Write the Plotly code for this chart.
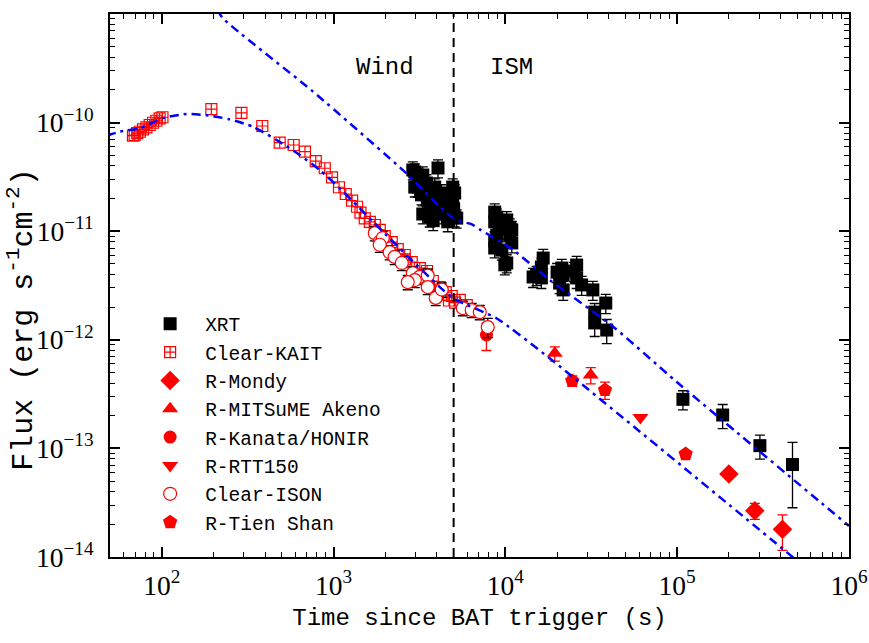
import plotly.graph_objects as go

# ---------------- data ----------------
XRT_T = [2893, 2970, 3306, 4055, 3094, 3473, 2970, 3250, 3880, 3990, 3630, 3306, 3630, 4439,
         5070, 4940, 5070, 4620, 3535, 4247, 4747, 3730, 4247, 4940, 5210, 3100, 3400, 4100,
         4600, 3800, 5000,
         8670, 8910, 8670, 10190, 10610, 10900, 8910, 8670, 10610, 10900, 9530, 8670, 10190,
         9930, 10000, 9200,
         16600, 16200, 14500, 16200, 15200, 21300, 21700, 20700, 21700, 20000, 26000, 26000,
         27800, 25000, 32300, 33100, 38400, 33100, 38900,
         108000, 184000, 303000, 469000]
XRT_F = [3.66e-11, 3.51e-11, 3.29e-11, 3.82e-11, 2.55e-11, 2.78e-11, 2.55e-11, 2.16e-11,
         2.55e-11, 2.07e-11, 1.82e-11, 1.44e-11, 1.35e-11, 1.57e-11, 2.25e-11, 1.82e-11,
         1.35e-11, 1.22e-11, 1.94e-11, 2.25e-11, 2.07e-11, 1.5e-11, 1.44e-11, 2.55e-11,
         1.32e-11, 3.2e-11, 2.4e-11, 1.7e-11, 1.6e-11, 1.25e-11, 1.6e-11,
         1.5e-11, 1.35e-11, 1.22e-11, 1.27e-11, 1.09e-11, 1.03e-11, 9.2e-12, 8.1e-12, 9.2e-12,
         7.8e-12, 6.7e-12, 7.0e-12, 5.1e-12, 4.9e-12, 1.15e-11, 1.05e-11,
         5.66e-12, 4.68e-12, 3.79e-12, 3.71e-12, 3.95e-12, 4.58e-12, 3.95e-12, 3.33e-12,
         2.88e-12, 4.2e-12, 4.88e-12, 3.71e-12, 3.2e-12, 4.3e-12, 2.88e-12, 1.8e-12, 2.18e-12,
         1.43e-12, 1.23e-12,
         2.83e-13, 2.03e-13, 1.06e-13, 7.1e-14]
XRT_REL = [0.19] * 31 + [0.19] * 16 + [0.2] * 17 + [0.25, 0.25] + [0.2, 0.25, 0.25, 0.6]

KAIT_T = [68, 69.6, 72, 74.5, 77.8, 81.5, 85.1, 89, 93.1, 97.3, 101, 194.5, 291, 385, 486, 586,
          682, 788, 889, 980, 1076, 1178, 1282, 1371, 1435, 1520, 1626, 1738, 1858, 1986, 2182,
          2365, 2596, 2851, 3177, 3490, 3780, 4150, 4500, 4875, 5430, 5960, 2600, 3500, 4300,
          3900, 4700, 5100]
KAIT_F = [7.6e-11, 7.69e-11, 8.0e-11, 8.24e-11, 8.67e-11, 9.05e-11, 9.5e-11, 9.97e-11, 1.04e-10,
          1.096e-10, 1.12e-10, 1.33e-10, 1.23e-10, 9.3e-11, 6.53e-11, 6.22e-11, 5.4e-11,
          4.42e-11, 3.8e-11, 3.13e-11, 2.54e-11, 2.2e-11, 1.91e-11, 1.68e-11, 1.48e-11,
          1.31e-11, 1.22e-11, 1.14e-11, 1.03e-11, 9.0e-12, 7.94e-12, 6.85e-12, 6.04e-12,
          5.2e-12, 4.58e-12, 3.95e-12, 3.48e-12, 3.06e-12, 2.75e-12, 2.53e-12, 2.33e-12,
          2.09e-12, 5.5e-12, 4.3e-12, 2.6e-12, 2.9e-12, 2.3e-12, 2.2e-12]

MONDY_T = [200000, 283000, 410000]
MONDY_F = [5.8e-14, 2.67e-14, 1.8e-14]
MONDY_REL = [0.06, 0.17, 0.36]

MITSUME_T = [19400, 31400]
MITSUME_F = [7.5e-13, 4.74e-13]
MITSUME_REL = [0.15, 0.17]

KANATA_T = [7762]
KANATA_F = [1.107e-12]
KANATA_REL = [0.28]

RTT_T = [61100]
RTT_F = [1.93e-13]

ISON_T = [1738, 1858, 1934, 1858, 2122, 2270, 2496, 2893, 3177, 2972, 3535, 2704, 3535, 3934,
          4262, 5652, 6371, 7096, 7898]
ISON_F = [9.6e-12, 8.0e-12, 8.65e-12, 7.5e-12, 6.4e-12, 5.8e-12, 5.1e-12, 4.1e-12, 3.8e-12,
          3.55e-12, 3.9e-12, 3.4e-12, 3.06e-12, 2.43e-12, 2.9e-12, 1.96e-12, 1.88e-12, 1.8e-12,
          1.31e-12]
ISON_REL = [0.15] * 18 + [0.2]

TIEN_T = [24500, 38000, 112000]
TIEN_F = [4.18e-13, 3.45e-13, 8.87e-14]
TIEN_REL = [0.11, 0.18, 0.05]

# model curves
XMODEL_T = [210, 227, 760, 2655, 3319, 4055, 5128, 6353, 7096, 11100, 18100, 42400, 99100, 1.0e6]
XMODEL_F = [1.1e-9, 9.13e-10, 1.93e-10, 3.41e-11, 2.39e-11, 1.74e-11, 1.27e-11, 1.16e-11,
            1.04e-11, 6.71e-12, 3.56e-12, 1.32e-12, 4.11e-13, 1.93e-14]
OMODEL_T = [48, 57, 74.5, 101.8, 139, 182, 249, 340, 466, 635, 831, 1087, 1419, 1738, 1941,
            2780, 4335, 5190, 8870, 18100, 443000, 518000]
OMODEL_F = [7.6e-11, 8.24e-11, 8.87e-11, 1.1e-10, 1.2e-10, 1.17e-10, 1.07e-10, 9.16e-11,
            6.92e-11, 5.04e-11, 3.66e-11, 2.48e-11, 1.63e-11, 1.18e-11, 9.9e-12, 5.62e-12,
            2.88e-12, 2.32e-12, 1.58e-12, 6.76e-13, 1.08e-14, 8.8e-15]

BREAK_T = 5000
Y_SPAN = [1e-14, 1e-9]

RED = "#ff0000"
BLUE = "#0000ff"
MONO = "Liberation Mono"
SERIF = "Liberation Serif"


def err(vals, rel, color):
    e = [v * r for v, r in zip(vals, rel)]
    return dict(type="data", array=e, arrayminus=e, color=color, thickness=1.3, width=5,
                visible=True)


fig = go.Figure()

fig.add_trace(go.Scatter(x=XRT_T, y=XRT_F, mode="markers", name="XRT",
                         marker=dict(symbol="square", size=13, color="black"),
                         error_y=err(XRT_F, XRT_REL, "black")))
fig.add_trace(go.Scatter(x=KAIT_T, y=KAIT_F, mode="markers", name="Clear-KAIT",
                         marker=dict(symbol="square-cross-open", size=11, color=RED,
                                     line=dict(width=1.2, color=RED))))
fig.add_trace(go.Scatter(x=MONDY_T, y=MONDY_F, mode="markers", name="R-Mondy",
                         marker=dict(symbol="diamond", size=15, color=RED),
                         error_y=err(MONDY_F, MONDY_REL, RED)))
fig.add_trace(go.Scatter(x=MITSUME_T, y=MITSUME_F, mode="markers", name="R-MITSuME Akeno",
                         marker=dict(symbol="triangle-up", size=14, color=RED),
                         error_y=err(MITSUME_F, MITSUME_REL, RED)))
fig.add_trace(go.Scatter(x=KANATA_T, y=KANATA_F, mode="markers", name="R-Kanata/HONIR",
                         marker=dict(symbol="circle", size=13, color=RED),
                         error_y=err(KANATA_F, KANATA_REL, RED)))
fig.add_trace(go.Scatter(x=RTT_T, y=RTT_F, mode="markers", name="R-RTT150",
                         marker=dict(symbol="triangle-down", size=14, color=RED)))
fig.add_trace(go.Scatter(x=ISON_T, y=ISON_F, mode="markers", name="Clear-ISON",
                         marker=dict(symbol="circle", size=13, color="white",
                                     line=dict(width=1.2, color=RED)),
                         error_y=err(ISON_F, ISON_REL, "black")))
fig.add_trace(go.Scatter(x=TIEN_T, y=TIEN_F, mode="markers", name="R-Tien Shan",
                         marker=dict(symbol="pentagon", size=15, color=RED),
                         error_y=err(TIEN_F, TIEN_REL, RED)))

# model lines
for mt, mf in ((XMODEL_T, XMODEL_F), (OMODEL_T, OMODEL_F)):
    fig.add_trace(go.Scatter(x=mt, y=mf, mode="lines", showlegend=False, hoverinfo="skip",
                             line=dict(color=BLUE, width=2.5, dash="9px,5px,3px,5px",
                                       shape="spline", smoothing=0.6)))

# wind / ISM boundary
fig.add_trace(go.Scatter(x=[BREAK_T, BREAK_T], y=Y_SPAN, mode="lines", showlegend=False,
                         hoverinfo="skip",
                         line=dict(color="black", width=2, dash="9px,6px")))

fig.add_annotation(text="Wind", xref="paper", yref="paper", x=0.372, y=0.902,
                   xanchor="center", yanchor="middle",
                   showarrow=False, font=dict(family=MONO, size=24, color="black"))
fig.add_annotation(text="ISM", xref="paper", yref="paper", x=0.543, y=0.902,
                   xanchor="center", yanchor="middle",
                   showarrow=False, font=dict(family=MONO, size=24, color="black"))
# y-axis title (placed like the reference, slightly below the axis centre)
fig.add_annotation(text="Flux (erg s<sup>-1</sup>cm<sup>-2</sup>)", xref="paper", yref="paper",
                   x=-0.119, y=0.437, xanchor="center", yanchor="middle", textangle=-90,
                   showarrow=False, font=dict(family=MONO, size=30, color="black"))

axis_common = dict(type="log", showgrid=False, zeroline=False, showline=True, linecolor="black",
                   linewidth=2, mirror="ticks", ticks="inside", ticklen=10, tickwidth=1.5,
                   tickcolor="black", dtick=1, exponentformat="power", automargin=False,
                   tickfont=dict(family=SERIF, size=22, color="black"),
                   minor=dict(ticks="inside", ticklen=5, tickwidth=1.2, tickcolor="black",
                              dtick="D1", showgrid=False))

fig.update_layout(
    width=869, height=643,
    margin=dict(l=110, r=20, t=14, b=86),
    paper_bgcolor="white", plot_bgcolor="white",
    xaxis=dict(axis_common, range=[1.699, 6],
               title=dict(text="Time since BAT trigger (s)",
                          font=dict(family=MONO, size=24, color="black"), standoff=8),
               ticklabelstandoff=4),
    yaxis=dict(axis_common, range=[-14, -9], ticklabelstandoff=10),
    legend=dict(x=0.034, y=0.465, xanchor="left", yanchor="top", bgcolor="rgba(0,0,0,0)",
                font=dict(family=MONO, size=19.5, color="black"), itemwidth=60,
                tracegroupgap=0, itemsizing="trace"),
    showlegend=True,
)

fig.write_html("out.html")
